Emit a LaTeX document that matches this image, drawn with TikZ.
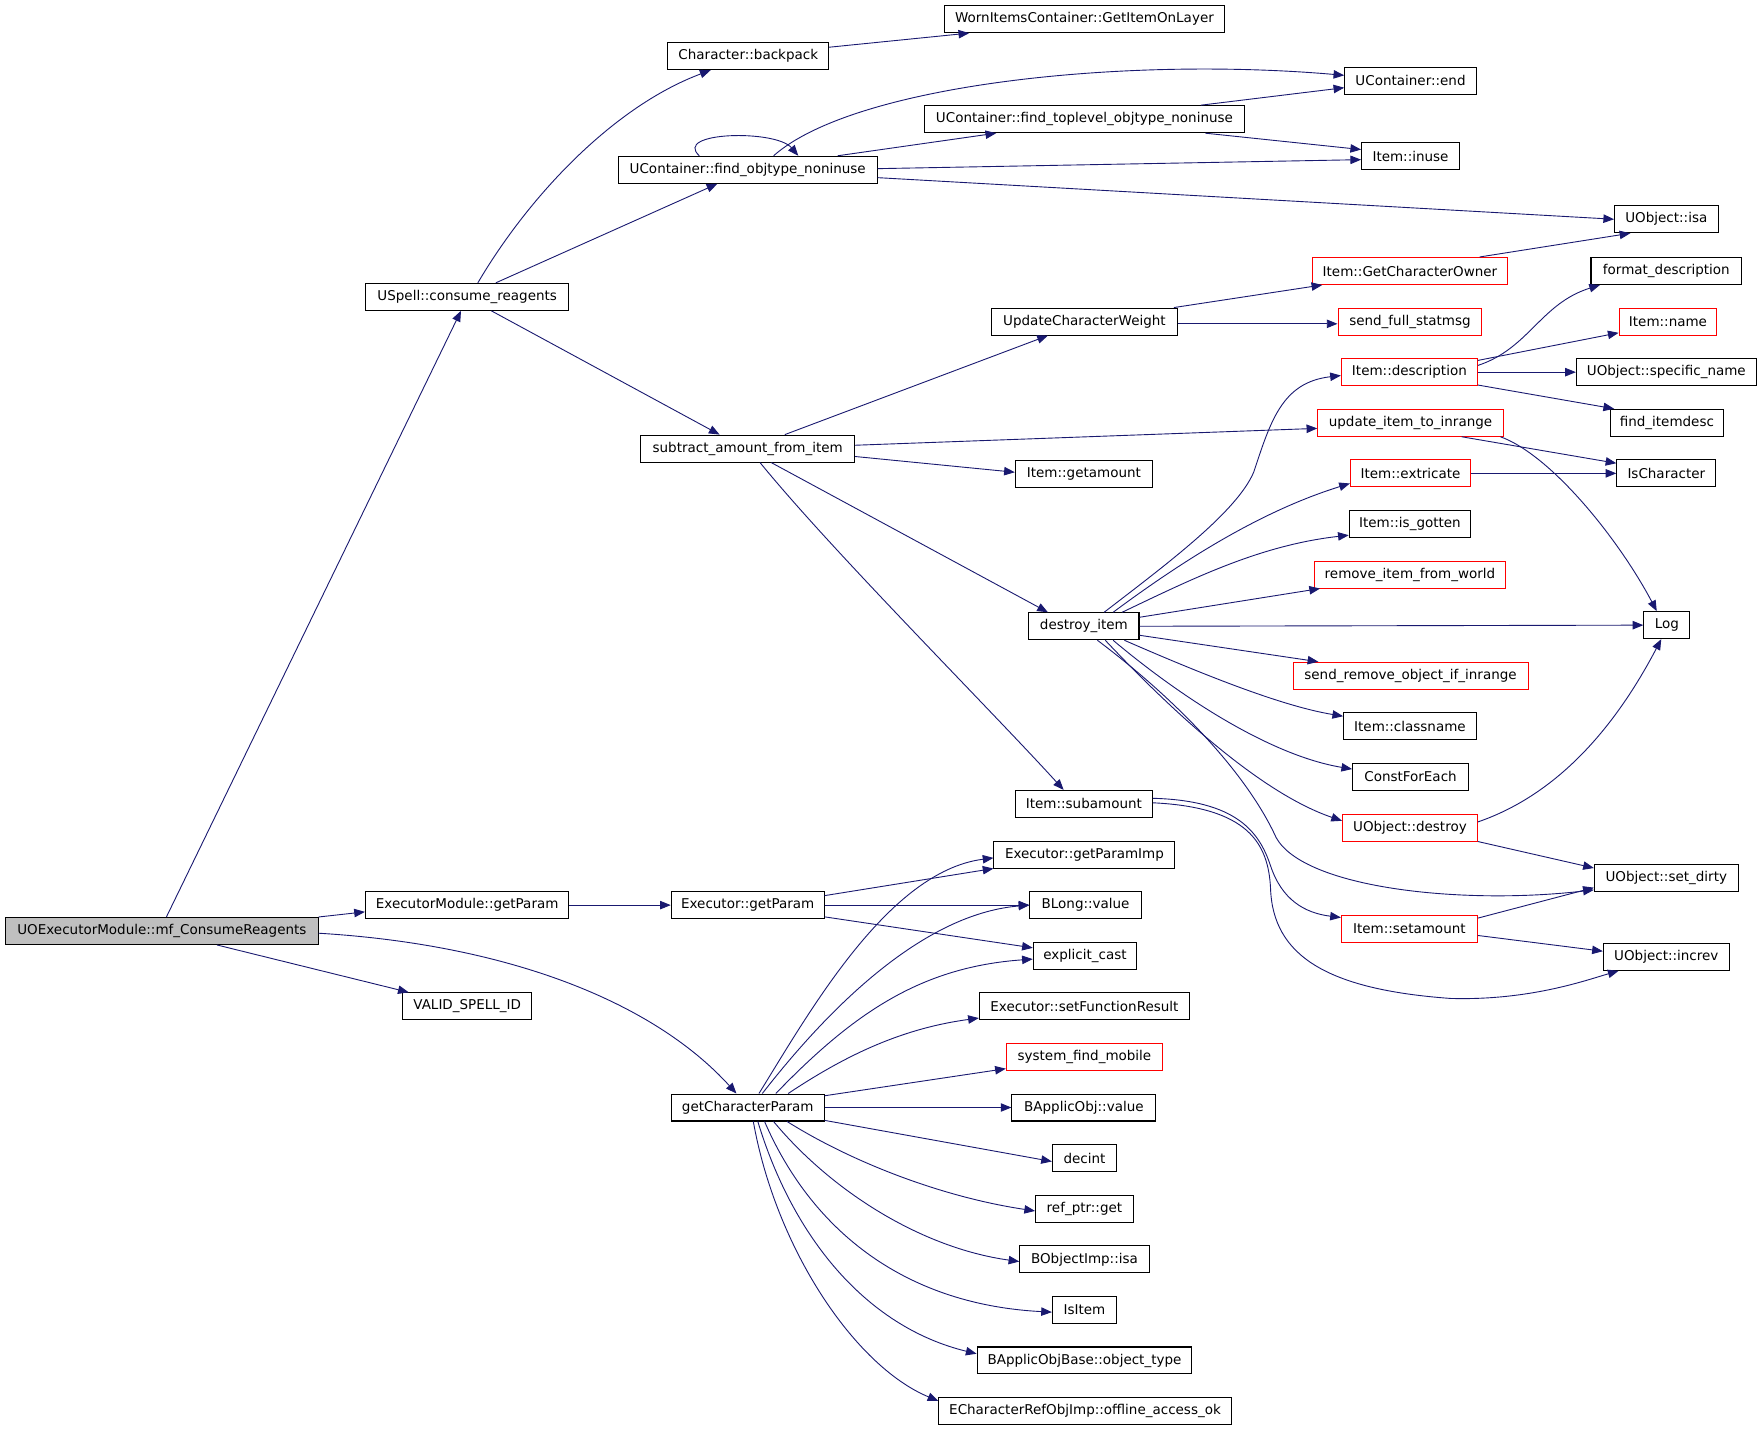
\documentclass[tikz,border=0pt]{standalone}
\usepackage{fontspec}
\setmainfont{DejaVu Sans}
\usetikzlibrary{arrows.meta}
\definecolor{edgeblue}{HTML}{191970}
\definecolor{rootgray}{HTML}{BFBFBF}
\newcommand{\nodefnt}{\fontsize{12}{13}\selectfont}
\begin{document}
\begin{tikzpicture}[x=1pt,y=-1pt,
  fn/.style={draw=black, line width=0.9pt, minimum height=24pt, inner sep=0pt, font=\nodefnt, fill=white},
  fnred/.style={fn, draw=red},
  edge/.style={draw=edgeblue, line width=0.8pt, -{Triangle[length=9.5pt,width=7.5pt]}}]
\useasboundingbox[fill=white] (0,0) rectangle (1568,1273);
% column 0
\node[fn, minimum width=278pt, fill=rootgray] (mf) at (144,828) {UOExecutorModule::mf\_ConsumeReagents};
% column 1
\node[fn, minimum width=181pt] (cr) at (415.5,264) {USpell::consume\_reagents};
\node[fn, minimum width=181pt] (emg) at (415.5,805) {ExecutorModule::getParam};
\node[fn, minimum width=115pt] (vsi) at (415.5,895) {VALID\_SPELL\_ID};
% column 2
\node[fn, minimum width=143pt] (bp) at (665.5,50) {Character::backpack};
\node[fn, minimum width=230pt] (fon) at (665,151) {UContainer::find\_objtype\_noninuse};
\node[fn, minimum width=190pt] (sub) at (665,399) {subtract\_amount\_from\_item};
\node[fn, minimum width=136pt] (egp) at (665,805) {Executor::getParam};
\node[fn, minimum width=136pt] (gcp) at (665,985) {getCharacterParam};
% column 3
\node[fn, minimum width=249pt] (worn) at (964.5,17) {WornItemsContainer::GetItemOnLayer};
\node[fn, minimum width=285pt] (ftl) at (964.5,106) {UContainer::find\_toplevel\_objtype\_noninuse};
\node[fn, minimum width=165pt] (ucw) at (964.5,286) {UpdateCharacterWeight};
\node[fn, minimum width=122pt] (gam) at (964,422) {Item::getamount};
\node[fn, minimum width=98pt] (di) at (964,557) {destroy\_item};
\node[fn, minimum width=122pt] (sam) at (964,715) {Item::subamount};
\node[fn, minimum width=161pt] (gpi) at (964.5,760) {Executor::getParamImp};
\node[fn, minimum width=99pt] (blv) at (965.5,805) {BLong::value};
\node[fn, minimum width=92pt] (ec) at (965,850) {explicit\_cast};
\node[fn, minimum width=187pt] (sfr) at (964.5,895) {Executor::setFunctionResult};
\node[fnred, minimum width=139pt] (sfm) at (964.5,940) {system\_find\_mobile};
\node[fn, minimum width=128pt] (bav) at (964,985) {BApplicObj::value};
\node[fn, minimum width=57pt] (dec) at (964.5,1030) {decint};
\node[fn, minimum width=87pt] (rpg) at (964.5,1075) {ref\_ptr::get};
\node[fn, minimum width=115pt] (boi) at (964.5,1120) {BObjectImp::isa};
\node[fn, minimum width=57pt] (isi) at (964.5,1165) {IsItem};
\node[fn, minimum width=191pt] (bot) at (964.5,1210) {BApplicObjBase::object\_type};
\node[fn, minimum width=260pt] (oao) at (965,1255) {ECharacterRefObjImp::offline\_access\_ok};
% column 4
\node[fn, minimum width=117pt] (uend) at (1254.5,72) {UContainer::end};
\node[fn, minimum width=87pt] (inuse) at (1254.5,139) {Item::inuse};
\node[fnred, minimum width=174pt] (gco) at (1254,241) {Item::GetCharacterOwner};
\node[fnred, minimum width=128pt] (sfs) at (1254,286) {send\_full\_statmsg};
\node[fnred, minimum width=121pt] (desc) at (1253.5,331) {Item::description};
\node[fnred, minimum width=165pt] (uiti) at (1254.5,376) {update\_item\_to\_inrange};
\node[fnred, minimum width=107pt] (ext) at (1254.5,421) {Item::extricate};
\node[fn, minimum width=108pt] (isg) at (1254,466) {Item::is\_gotten};
\node[fnred, minimum width=170pt] (rifw) at (1254,511) {remove\_item\_from\_world};
\node[fnred, minimum width=209pt] (sroi) at (1254.5,601) {send\_remove\_object\_if\_inrange};
\node[fn, minimum width=118pt] (cls) at (1254,646) {Item::classname};
\node[fn, minimum width=103pt] (cfe) at (1254.5,691) {ConstForEach};
\node[fnred, minimum width=120pt] (uod) at (1254,736) {UObject::destroy};
\node[fnred, minimum width=121pt] (sta) at (1253.5,826) {Item::setamount};
% column 5
\node[fn, minimum width=92pt] (uoisa) at (1482,195) {UObject::isa};
\node[fn, minimum width=134pt] (fd) at (1482,241) {format\_description};
\node[fnred, minimum width=87pt] (iname) at (1483.5,286) {Item::name};
\node[fn, minimum width=160pt] (usn) at (1482,331) {UObject::specific\_name};
\node[fn, minimum width=101pt] (fid) at (1482.5,376) {find\_itemdesc};
\node[fn, minimum width=88pt] (isc) at (1482,421) {IsCharacter};
\node[fn, minimum width=41pt] (log) at (1482.5,556) {Log};
\node[fn, minimum width=128pt] (usd) at (1482,781) {UObject::set\_dirty};
\node[fn, minimum width=112pt] (uinc) at (1482,851) {UObject::increv};
% edges from root
\draw[edge] ([xshift=4pt]mf.north) -- ([xshift=-5.5pt]cr.south);
\draw[edge] (mf.north east) -- ([yshift=-6pt]emg.west);
\draw[edge] ([xshift=49pt]mf.south) -- ([xshift=-52pt]vsi.north);
\draw[edge] ([yshift=-2pt]mf.east) .. controls (450,840) and (580,890) .. ([xshift=-10pt]gcp.north);
% consume_reagents
\draw[edge] ([xshift=9.5pt]cr.north) .. controls (470,175) and (545,95) .. ([xshift=-33.5pt]bp.south);
\draw[edge] ([xshift=25.5pt]cr.north) -- ([xshift=-27pt]fon.south);
\draw[edge] ([xshift=21.5pt]cr.south) -- ([xshift=-25pt]sub.north);
% backpack
\draw[edge] ([yshift=8pt]bp.east) -- ([xshift=-102.5pt]worn.south);
% find_objtype_noninuse
\draw[edge] ([xshift=-43pt]fon.north) .. controls (598,117) and (690,115) .. ([xshift=45pt]fon.north);
\draw[edge] ([xshift=23pt]fon.north) .. controls (760,75) and (1000,50) .. ([yshift=5pt]uend.west);
\draw[edge] ([xshift=80pt]fon.north) -- ([xshift=-78.5pt]ftl.south);
\draw[edge] ([yshift=1pt]fon.east) -- ([yshift=-3pt]inuse.west);
\draw[edge] ([yshift=-7pt]fon.east) -- (uoisa.west);
% find_toplevel
\draw[edge] ([xshift=103.5pt]ftl.north) -- ([yshift=-6pt]uend.west);
\draw[edge] ([xshift=107.5pt]ftl.south) -- ([yshift=6pt]inuse.west);
% subtract_amount_from_item
\draw[edge] ([xshift=33pt]sub.north) -- ([xshift=-32.5pt]ucw.south);
\draw[edge] ([yshift=3pt]sub.east) -- ([yshift=-5pt]uiti.west);
\draw[edge] ([yshift=-7pt]sub.east) -- ([yshift=2pt]gam.west);
\draw[edge] ([xshift=21pt]sub.south) -- ([xshift=-32pt]di.north);
\draw[edge] ([xshift=11pt]sub.south) .. controls (740,490) and (880,630) .. ([xshift=-18pt]sam.north);
% UpdateCharacterWeight
\draw[edge] ([xshift=79.5pt]ucw.north) -- ([xshift=-78pt]gco.south);
\draw[edge] ([yshift=-2pt]ucw.east) -- ([yshift=-2pt]sfs.west);
\draw[edge] ([xshift=62pt]gco.north) -- ([xshift=-32pt]uoisa.south);
% destroy_item
\draw[edge] ([xshift=18pt]di.north) .. controls (1040,500) and (1100,455) .. (1115,420) .. controls (1130,375) and (1140,340) .. ([yshift=-3pt]desc.west);
\draw[edge] ([xshift=26pt]di.north) .. controls (1050,500) and (1120,455) .. ([yshift=-9pt]ext.west);
\draw[edge] ([xshift=34pt]di.north) .. controls (1060,515) and (1120,485) .. ([yshift=-10pt]isg.west);
\draw[edge] ([yshift=8pt]di.east) -- ([xshift=-80pt]rifw.south);
\draw[edge] (di.east) -- (log.west);
\draw[edge] ([yshift=-8pt]di.east) -- ([xshift=-82pt]sroi.north);
\draw[edge] ([xshift=36pt]di.south) .. controls (1070,600) and (1140,628) .. ([yshift=9pt]cls.west);
\draw[edge] ([xshift=26pt]di.south) .. controls (1050,620) and (1130,672) .. ([yshift=7pt]cfe.west);
\draw[edge] ([xshift=19pt]di.south) .. controls (1040,630) and (1120,705) .. ([yshift=6pt]uod.west);
\draw[edge] ([xshift=12pt]di.south) .. controls (1050,625) and (1110,690) .. (1135,745) .. controls (1160,790) and (1300,805) .. ([yshift=2pt]usd.south west);
% Item::description
\draw[edge] ([yshift=6pt]desc.east) .. controls (1360,310) and (1370,270) .. ([xshift=-59pt]fd.south);
\draw[edge] ([yshift=-2pt]desc.north east) -- ([yshift=-10pt]iname.west);
\draw[edge] (desc.east) -- (usn.west);
\draw[edge] ([yshift=1pt]desc.south east) -- ([xshift=4pt]fid.north west);
% update_item_to_inrange
\draw[edge] ([xshift=45.5pt]uiti.south) -- ([yshift=9pt]isc.west);
\draw[edge] ([xshift=80pt]uiti.south) .. controls (1380,405) and (1440,480) .. ([xshift=-9pt]log.north);
\draw[edge] (ext.east) -- (isc.west);
% UObject::destroy
\draw[edge] ([yshift=5pt]uod.east) .. controls (1390,705) and (1440,640) .. ([xshift=-5pt]log.south);
\draw[edge] (uod.south east) -- ([yshift=9pt]usd.west);
% Item::subamount
\draw[edge] ([yshift=5pt]sam.east) .. controls (1100,712) and (1120,740) .. (1130,770) .. controls (1140,800) and (1160,812) .. ([yshift=10pt]sta.west);
\draw[edge] ([yshift=1pt]sam.east) .. controls (1110,718) and (1128,750) .. (1130,790) .. controls (1132,850) and (1180,880) .. (1290,888) .. controls (1360,890) and (1410,872) .. ([xshift=14pt]uinc.south west);
\draw[edge] ([yshift=-3pt]sta.north east) -- ([yshift=4pt]usd.south west);
\draw[edge] ([yshift=-6pt]sta.east) -- ([yshift=5pt]uinc.west);
% Executor getParam
\draw[edge] (emg.east) -- (egp.west);
\draw[edge] ([yshift=-4pt]egp.north east) -- (gpi.south west);
\draw[edge] (egp.east) -- (blv.west);
\draw[edge] ([yshift=2pt]egp.south east) -- ([yshift=7pt]ec.west);
% getCharacterParam
\draw[edge] ([xshift=10pt]gcp.north) .. controls (720,900) and (790,775) .. ([yshift=-3pt]gpi.west);
\draw[edge] ([xshift=13pt]gcp.north) .. controls (750,880) and (830,812) .. (blv.west);
\draw[edge] ([xshift=25pt]gcp.north) .. controls (760,900) and (820,860) .. ([yshift=-3pt]ec.west);
\draw[edge] ([xshift=36pt]gcp.north) .. controls (750,940) and (800,915) .. ([yshift=2pt]sfr.south west);
\draw[edge] ([yshift=-2pt]gcp.north east) -- ([yshift=2pt]sfm.south west);
\draw[edge] (gcp.east) -- (bav.west);
\draw[edge] ([yshift=1pt]gcp.south east) -- ([yshift=-3pt]dec.west);
\draw[edge] ([xshift=35pt]gcp.south) .. controls (760,1035) and (840,1065) .. ([yshift=-2pt]rpg.west);
\draw[edge] ([xshift=23pt]gcp.south) .. controls (740,1060) and (820,1110) .. ([yshift=-2pt]boi.west);
\draw[edge] ([xshift=15pt]gcp.south) .. controls (720,1090) and (800,1160) .. ([yshift=-2pt]isi.west);
\draw[edge] ([xshift=9pt]gcp.south) .. controls (705,1100) and (770,1180) .. ([yshift=6pt]bot.west);
\draw[edge] ([xshift=5pt]gcp.south) .. controls (690,1110) and (760,1215) .. ([yshift=9pt]oao.west);
\end{tikzpicture}
\end{document}
